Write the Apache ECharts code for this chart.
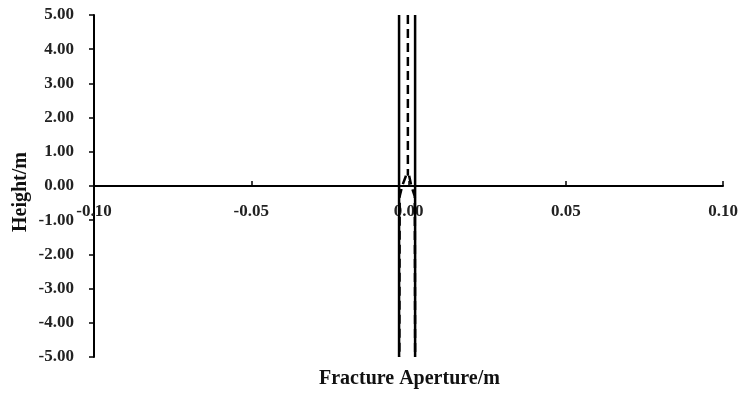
<!DOCTYPE html>
<html><head><meta charset="utf-8">
<script src="https://cdn.jsdelivr.net/npm/echarts@6/dist/echarts.min.js"></script>
<style>html,body{margin:0;padding:0;background:#fff}#c{width:744px;height:396px}</style>
</head><body><div id="c"></div>
<script>
// Data (fracture aperture in m, height in m)
const solidLeftX = [-0.0030, -0.0030];
const solidLeftY = [-5, 5];
const solidRightX = [0.0021, 0.0021];
const solidRightY = [-5, 5];
const dashTopX = [-0.0002, -0.0002];
const dashTopY = [5, 0.3];
const dashLeftX = [-0.0008, -0.0020, -0.0028, -0.0029];
const dashLeftY = [0.3, 0, -0.3, -5];
const dashRightX = [0.0002, 0.0009, 0.0020, 0.0021];
const dashRightY = [0.3, 0, -0.3, -5];
const xTicks = [-0.10, -0.05, 0.00, 0.05, 0.10];
const yTicks = [-5, -4, -3, -2, -1, 0, 1, 2, 3, 4, 5];

const pairs = (xs, ys) => xs.map((x, i) => [x, ys[i]]);
const font = 'Liberation Serif';
const chart = echarts.init(document.getElementById('c'));
const lineBase = {type: 'line', showSymbol: false, symbol: 'none', animation: false, silent: true};
const dashStyle = {color: '#000', width: 2.5, type: [9, 5]};
chart.setOption({
  animation: false,
  grid: {left: 94, right: 21, top: 15, bottom: 39, containLabel: false, outerBoundsMode: 'none'},
  graphic: [{
    type: 'text', left: 319, top: 369,
    style: {text: 'Fracture Aperture/m', fontFamily: font, fontWeight: 'bold', fontSize: 20, fill: '#111'}
  }, {
    type: 'text', x: 11, y: 232, rotation: Math.PI / 2,
    style: {text: 'Height/m', fontFamily: font, fontWeight: 'bold', fontSize: 20, fill: '#111'}
  }],
  xAxis: {
    type: 'value', min: xTicks[0], max: xTicks[xTicks.length - 1], interval: 0.05,
    offset: -171,
    axisLine: {onZero: false, lineStyle: {color: '#000', width: 2}},
    axisTick: {show: true, inside: true, length: 5, lineStyle: {color: '#000', width: 1.5}},
    axisLabel: {margin: 17, color: '#222', fontFamily: font, fontWeight: 'bold', fontSize: 17,
      hideOverlap: false, formatter: v => v.toFixed(2)},
    splitLine: {show: false}
  },
  yAxis: {
    type: 'value', min: yTicks[0], max: yTicks[yTicks.length - 1], interval: 1,
    axisLine: {onZero: false, lineStyle: {color: '#000', width: 2}},
    axisTick: {show: true, inside: false, length: 5, lineStyle: {color: '#000', width: 1.5}},
    axisLabel: {margin: 20, color: '#222', fontFamily: font, fontWeight: 'bold', fontSize: 17,
      hideOverlap: false, formatter: v => v.toFixed(2)},
    splitLine: {show: false}
  },
  series: [
    Object.assign({}, lineBase, {data: pairs(dashTopX, dashTopY), lineStyle: dashStyle}),
    Object.assign({}, lineBase, {data: pairs(dashLeftX, dashLeftY), lineStyle: dashStyle}),
    Object.assign({}, lineBase, {data: pairs(dashRightX, dashRightY), lineStyle: dashStyle}),
    Object.assign({}, lineBase, {data: pairs(solidLeftX, solidLeftY), lineStyle: {color: '#000', width: 2.5}}),
    Object.assign({}, lineBase, {data: pairs(solidRightX, solidRightY), lineStyle: {color: '#000', width: 2.5}})
  ]
});
</script></body></html>
